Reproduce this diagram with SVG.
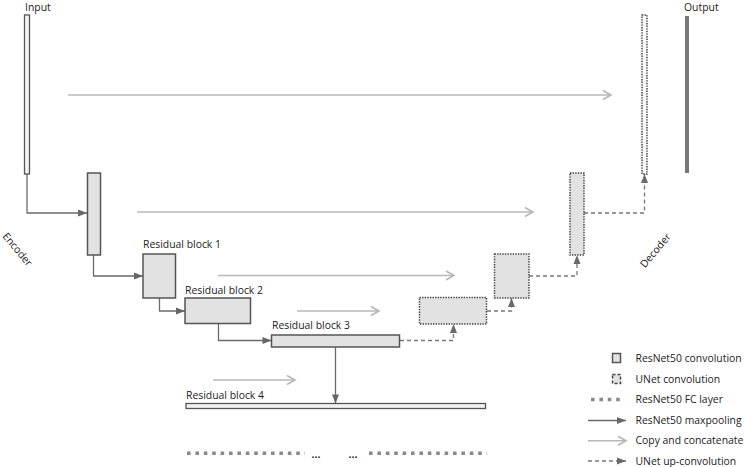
<svg xmlns="http://www.w3.org/2000/svg" width="745" height="467" viewBox="0 0 745 467">
<style>
text{font-family:"Open Sans","Noto Sans","DejaVu Sans",sans-serif;font-size:10.4px;fill:#222}
.blk{fill:#e2e2e2;stroke:#555;stroke-width:1.5}
.thin{fill:#f4f4f4;stroke:#555;stroke-width:1.3}
.dot{fill:#e2e2e2;stroke:#444;stroke-width:1.5;stroke-dasharray:1.4 1.2}
.pool{fill:none;stroke:#6a6a6a;stroke-width:1.3}
.copy{fill:none;stroke:#b8b8b8;stroke-width:1.6}
.up{fill:none;stroke:#777;stroke-width:1.3;stroke-dasharray:4 3}
.fc{fill:none;stroke:#8a8a8a;stroke-width:3.5;stroke-dasharray:3.6 4.8}
</style>
<defs>
<marker id="mPool" markerUnits="userSpaceOnUse" markerWidth="10" markerHeight="8" refX="9" refY="3.5" orient="auto" overflow="visible"><path d="M0,0 L9,3.5 L0,7 z" fill="#666"/></marker>
<marker id="mUp" markerUnits="userSpaceOnUse" markerWidth="10" markerHeight="8" refX="9" refY="3.5" orient="auto" overflow="visible"><path d="M0,0 L9,3.5 L0,7 z" fill="#6a6a6a"/></marker>
<marker id="mCopy" markerUnits="userSpaceOnUse" markerWidth="10" markerHeight="10" refX="8" refY="4.5" orient="auto" overflow="visible"><path d="M0,0 L8,4.5 L0,9" fill="none" stroke="#b8b8b8" stroke-width="1.6"/></marker>
</defs>

<g id="connectors">
<path class="pool" d="M27,174 V213 H87" marker-end="url(#mPool)"/>
<path class="pool" d="M93.5,255 V276 H143" marker-end="url(#mPool)"/>
<path class="pool" d="M159.5,298 V311 H185" marker-end="url(#mPool)"/>
<path class="pool" d="M218.5,323.5 V340.5 H271.5" marker-end="url(#mPool)"/>
<path class="pool" d="M335.5,347 V403.5" marker-end="url(#mPool)"/>
<path class="copy" d="M68,95 H611" marker-end="url(#mCopy)"/>
<path class="copy" d="M137,212 H533" marker-end="url(#mCopy)"/>
<path class="copy" d="M218,275.5 H454" marker-end="url(#mCopy)"/>
<path class="copy" d="M297,311 H379" marker-end="url(#mCopy)"/>
<path class="copy" d="M213,380 H295" marker-end="url(#mCopy)"/>
<path class="up" d="M400,340.5 H453.5 V324" marker-end="url(#mUp)"/>
<path class="up" d="M487,311 H511.5 V298" marker-end="url(#mUp)"/>
<path class="up" d="M529,276 H577 V255" marker-end="url(#mUp)"/>
<path class="up" d="M584,213 H644.5 V174" marker-end="url(#mUp)"/>
</g>

<g id="input"><rect class="thin" x="24.5" y="15" width="5" height="159"/><text x="25" y="10.5">Input</text></g>
<g id="enc1"><rect class="blk" x="87.5" y="173" width="13" height="82"/></g>
<g id="rb1"><rect class="blk" x="143" y="254" width="32.5" height="44"/><text x="143" y="248">Residual block 1</text></g>
<g id="rb2"><rect class="blk" x="185" y="298" width="65.5" height="25.5"/><text x="185" y="294">Residual block 2</text></g>
<g id="rb3"><rect class="blk" x="271.5" y="335" width="128" height="12"/><text x="272" y="328.5">Residual block 3</text></g>
<g id="rb4"><rect class="thin" x="186" y="403.5" width="299.5" height="5"/><text x="186" y="398.5">Residual block 4</text></g>
<g id="fc">
<path class="fc" d="M187,453.3 H305"/>
<text x="311.5" y="458" font-weight="bold">...</text>
<text x="348.5" y="458" font-weight="bold">...</text>
<path class="fc" d="M369,453.3 H487"/>
</g>
<g id="dec3"><rect class="dot" x="419.5" y="297.5" width="67" height="26.5"/></g>
<g id="dec2"><rect class="dot" x="494.5" y="254" width="34.5" height="44"/></g>
<g id="dec1"><rect class="dot" x="570" y="173" width="14" height="82"/></g>
<g id="dec0"><rect class="dot" x="642" y="15" width="5" height="159" style="fill:#fafafa"/></g>
<g id="output"><rect x="685" y="16" width="4" height="157" fill="#777"/><text x="684" y="11">Output</text></g>
<text x="2" y="236.5" transform="rotate(50 2 236.5)">Encoder</text>
<text x="645" y="268.5" transform="rotate(-50 645 268.5)">Decoder</text>

<g id="legend">
<rect class="blk" x="612.5" y="353.5" width="8" height="9"/>
<text x="635.5" y="361.7">ResNet50 convolution</text>
<rect class="dot" x="612.5" y="374.5" width="8" height="9" style="stroke-dasharray:3 2"/>
<text x="635.5" y="382.7">UNet convolution</text>
<path class="fc" d="M591,399.5 H620"/>
<text x="635.5" y="403.2">ResNet50 FC layer</text>
<path class="pool" d="M588,420.5 H626" marker-end="url(#mPool)"/>
<text x="635.5" y="424.2">ResNet50 maxpooling</text>
<path class="copy" d="M588,440.7 H626" marker-end="url(#mCopy)"/>
<text x="635.5" y="444.4">Copy and concatenate</text>
<path class="up" d="M588,461 H626" marker-end="url(#mUp)"/>
<text x="635.5" y="464.7">UNet up-convolution</text>
</g>
</svg>
